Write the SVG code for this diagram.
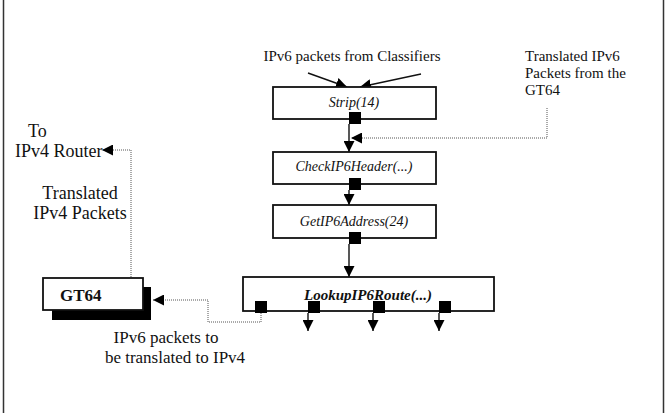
<svg xmlns="http://www.w3.org/2000/svg" width="667" height="413" viewBox="0 0 667 413">
<defs>
<marker id="ah" markerWidth="12" markerHeight="11" refX="11" refY="5.5" orient="auto" markerUnits="userSpaceOnUse">
<path d="M0,0 L11,5.5 L0,11 Z" fill="#000"/>
</marker>
<style>
.box{fill:#fff;stroke:#111;stroke-width:1.8}
.port{fill:#000}
.txt{font-family:"Liberation Serif","Times New Roman",serif;fill:#111}
.fn{font-style:italic;font-size:14px}
.solid{fill:none;stroke:#111;stroke-width:1.4}
.dot{fill:none;stroke:#555;stroke-width:1;stroke-dasharray:1 1}
</style>
</defs>
<rect width="667" height="413" fill="#fff"/>
<line x1="3.5" y1="0" x2="3.5" y2="413" stroke="#333" stroke-width="1.5"/>
<line x1="663.5" y1="0" x2="663.5" y2="413" stroke="#333" stroke-width="1.5"/>

<g id="connectors">
<line class="solid" x1="308" y1="73" x2="347" y2="87" marker-end="url(#ah)"/>
<line class="solid" x1="421" y1="74" x2="360" y2="87" marker-end="url(#ah)"/>
<line class="solid" x1="349" y1="124" x2="349" y2="152" marker-end="url(#ah)"/>
<polyline class="dot" points="547,108 547,138 351,138" marker-end="url(#ah)"/>
<line class="solid" x1="349" y1="190" x2="349" y2="205" marker-end="url(#ah)"/>
<line class="solid" x1="349" y1="244" x2="349" y2="277" marker-end="url(#ah)"/>
<line class="solid" x1="308" y1="313" x2="308" y2="331" marker-end="url(#ah)"/>
<line class="solid" x1="373" y1="313" x2="373" y2="331" marker-end="url(#ah)"/>
<line class="solid" x1="439" y1="313" x2="439" y2="331" marker-end="url(#ah)"/>
<polyline class="dot" points="261,313 261,322 208,322 208,300 153,300" marker-end="url(#ah)"/>
<polyline class="dot" points="131,277 131,150 102,150" marker-end="url(#ah)"/>
</g>

<g id="strip">
<rect class="box" x="273" y="87" width="163" height="32"/>
<text class="txt fn" x="354" y="107" text-anchor="middle">Strip(14)</text>
<rect class="port" x="349" y="112" width="12" height="12"/>
</g>
<g id="check">
<rect class="box" x="273" y="152" width="163" height="32"/>
<text class="txt fn" x="354" y="171" text-anchor="middle">CheckIP6Header(...)</text>
<rect class="port" x="349" y="178" width="12" height="12"/>
</g>
<g id="getaddr">
<rect class="box" x="273" y="205" width="163" height="33"/>
<text class="txt fn" x="354" y="226" text-anchor="middle">GetIP6Address(24)</text>
<rect class="port" x="349" y="232" width="12" height="12"/>
</g>
<g id="lookup">
<rect class="box" x="243" y="277" width="251" height="34"/>
<text class="txt" x="368" y="300" text-anchor="middle" font-size="15" font-weight="bold" font-style="italic">LookupIP6Route(...)</text>
<rect class="port" x="255" y="301" width="12" height="12"/>
<rect class="port" x="308" y="301" width="12" height="12"/>
<rect class="port" x="373" y="301" width="12" height="12"/>
<rect class="port" x="439" y="301" width="12" height="12"/>
</g>
<g id="gt64">
<rect x="52" y="287" width="99" height="33" fill="#000"/>
<rect class="box" x="43" y="278" width="100" height="32"/>
<text class="txt" x="60" y="301" font-size="17" font-weight="bold">GT64</text>
</g>

<g id="labels">
<text class="txt" x="352" y="61" text-anchor="middle" font-size="15">IPv6 packets from Classifiers</text>
<text class="txt" x="525" y="61" font-size="15">Translated IPv6</text>
<text class="txt" x="525" y="78" font-size="15">Packets from the</text>
<text class="txt" x="525" y="95" font-size="15">GT64</text>
<text class="txt" x="28" y="137" font-size="18">To</text>
<text class="txt" x="15" y="157" font-size="18">IPv4 Router</text>
<text class="txt" x="80" y="199" text-anchor="middle" font-size="18">Translated</text>
<text class="txt" x="80" y="219" text-anchor="middle" font-size="18">IPv4 Packets</text>
<text class="txt" x="166" y="343" text-anchor="middle" font-size="17">IPv6 packets to</text>
<text class="txt" x="175" y="363" text-anchor="middle" font-size="17">be translated to IPv4</text>
</g>
</svg>
